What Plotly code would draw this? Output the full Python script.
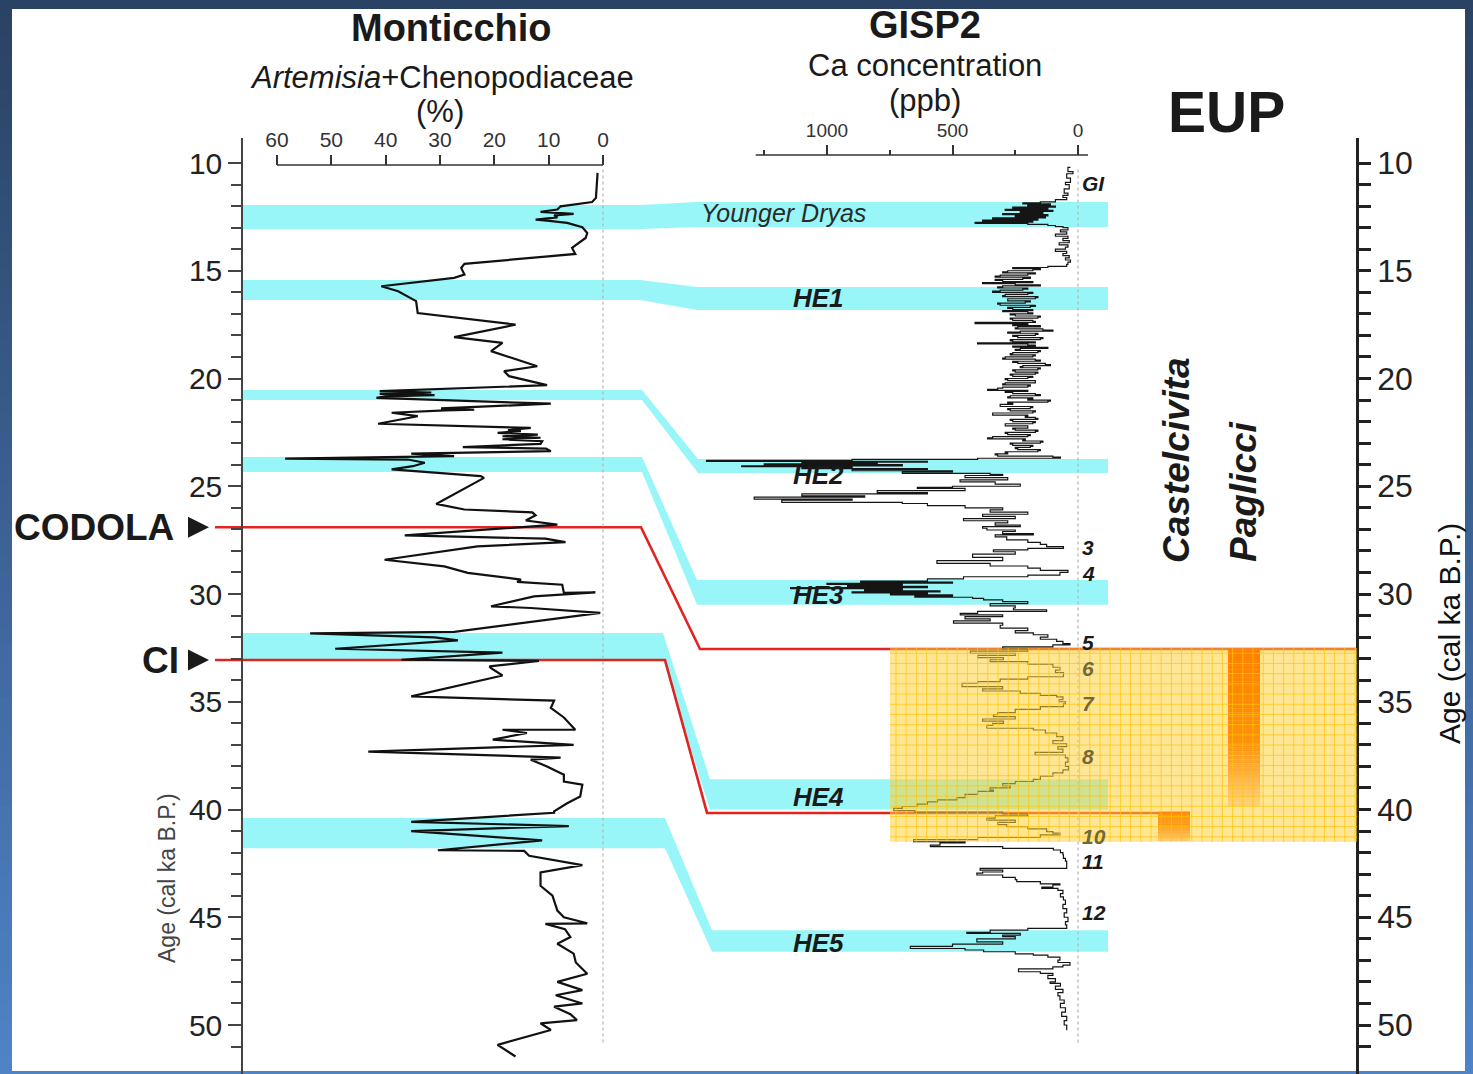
import numpy as np
import plotly.graph_objects as go

W, H = 1473, 1074
FONT = "Liberation Sans, Arial, Helvetica, sans-serif"

# ------------------------------------------------------------------ data
# Monticchio: Artemisia+Chenopodiaceae (%) vs age (cal ka BP)
monti_age = [10.46, 11.62, 11.81, 12.01, 12.16, 12.27, 12.36, 12.43, 12.52, 12.63,
             12.67, 12.78, 12.98, 13.25, 13.48, 13.76, 13.94, 14.22, 14.68, 14.87,
             15.18, 15.33, 15.72, 15.95, 16.26, 16.41, 16.96, 17.50, 18.08, 18.35,
             18.73, 19.43, 19.66, 19.89, 20.31, 20.59, 20.65, 20.71, 20.77, 20.83,
             20.90, 21.17, 21.39, 21.45, 21.48, 21.59, 21.75, 22.10, 22.29, 22.40,
             22.44, 22.52, 22.60, 22.68, 22.75, 22.82, 22.91, 23.03, 23.18, 23.25,
             23.37, 23.49, 23.60, 23.72, 23.76, 23.91, 24.07, 24.22, 24.53, 24.61,
             25.82, 26.08, 26.21, 26.35, 26.59, 26.78, 27.28, 27.43, 27.59, 27.79,
             28.41, 28.72, 29.02, 29.33, 29.44, 29.57, 29.95, 29.92, 30.11, 30.57,
             30.65, 30.88, 31.76, 31.83, 32.01, 32.15, 32.54, 32.72, 33.05, 33.10,
             33.36, 33.44, 33.78, 34.75, 34.95, 35.29, 35.73, 36.30, 36.30, 36.45,
             36.76, 37.00, 37.31, 37.59, 37.69, 38.00, 38.39, 38.70, 38.85, 39.40,
             39.71, 40.09, 40.15, 40.57, 40.77, 41.00, 41.43, 41.89, 41.92, 42.15,
             42.58, 42.92, 43.54, 44.00, 44.69, 45.00, 45.28, 45.31, 45.55, 45.92,
             46.23, 46.69, 47.10, 47.62, 48.00, 48.38, 48.62, 49.00, 49.15, 49.50,
             49.77, 49.92, 50.23, 50.92, 51.46]
monti_pct = [1.0, 1.3, 2.0, 7.8, 8.4, 11.5, 5.4, 9.0, 8.4, 12.4,
             10.3, 6.6, 3.8, 2.9, 3.2, 4.8, 5.7, 5.1, 25.5, 26.1,
             25.5, 27.4, 40.8, 37.7, 35.3, 34.4, 34.1, 16.1, 27.4, 18.5,
             20.6, 12.1, 18.2, 17.3, 10.3, 41.1, 31.6, 41.1, 31.0, 40.0,
             41.7, 9.6, 29.8, 23.7, 29.0, 38.9, 34.1, 41.4, 13.3, 17.5,
             15.1, 19.4, 12.0, 18.5, 11.5, 18.5, 11.2, 11.5, 25.8, 10.5,
             9.6, 35.3, 27.4, 58.5, 35.9, 32.8, 35.0, 38.9, 22.5, 21.9,
             30.7, 25.5, 13.0, 12.4, 14.2, 8.4, 36.5, 10.6, 6.9, 23.1,
             40.2, 29.2, 24.9, 15.1, 15.8, 7.5, 7.2, 1.4, 12.7, 20.6,
             13.3, 0.5, 27.4, 53.9, 31.0, 26.7, 49.3, 18.5, 37.1, 11.8,
             20.9, 20.6, 18.5, 35.3, 9.0, 9.6, 7.2, 5.1, 18.5, 14.0,
             20.3, 5.4, 43.2, 7.8, 13.3, 10.3, 7.2, 7.2, 3.8, 4.2,
             6.6, 9.0, 9.0, 35.3, 6.3, 35.3, 11.2, 30.4, 14.5, 13.6,
             3.8, 11.5, 11.5, 9.3, 8.4, 7.2, 2.9, 10.6, 7.0, 6.0,
             8.4, 5.4, 5.0, 2.9, 8.4, 3.8, 8.7, 3.8, 9.0, 6.0,
             4.8, 11.5, 9.6, 19.4, 16.1]

# GISP2 Ca concentration (ppb) vs age (cal ka BP)
gisp_age = [10.2, 10.4, 10.5, 10.7, 10.9, 11.0, 11.2, 11.4, 11.5, 11.6, 11.7, 11.8,
            11.85, 11.9, 11.95, 12.0, 12.05, 12.1, 12.15, 12.2, 12.25, 12.3, 12.35, 12.4,
            12.45, 12.5, 12.55, 12.6, 12.65, 12.7, 12.75, 12.8, 12.85, 12.9, 12.95,
            13.0, 13.1, 13.2, 13.3, 13.4, 13.5, 13.6, 13.7, 13.8, 13.9, 14.0, 14.1,
            14.2, 14.3, 14.4, 14.5, 14.6, 14.7, 14.8, 14.85,
            14.90, 14.95, 15.00, 15.05, 15.10, 15.15, 15.20, 15.25, 15.30, 15.35,
            15.40, 15.45, 15.50, 15.55, 15.60, 15.65, 15.70, 15.75, 15.80, 15.85,
            15.90, 15.95, 16.00, 16.05, 16.10, 16.15, 16.20, 16.25, 16.30, 16.35,
            16.40, 16.45, 16.50, 16.55, 16.60, 16.65, 16.70, 16.75, 16.80, 16.85,
            16.90, 16.95, 17.00, 17.05, 17.10, 17.15, 17.20, 17.25, 17.30, 17.35,
            17.40, 17.45, 17.50, 17.55, 17.60, 17.65, 17.70, 17.75, 17.80, 17.85,
            17.90, 17.95, 18.00, 18.05, 18.10, 18.15, 18.20, 18.25, 18.30, 18.35,
            18.40, 18.45, 18.50, 18.55, 18.60, 18.65, 18.70, 18.75, 18.80, 18.85,
            18.90, 18.95, 19.00, 19.05, 19.10, 19.15, 19.20, 19.25, 19.30, 19.35,
            19.40, 19.45, 19.50, 19.55, 19.60, 19.65, 19.70, 19.75, 19.80, 19.85,
            19.90, 19.95, 20.00, 20.05, 20.10, 20.15, 20.20, 20.25, 20.30, 20.35,
            20.40, 20.45, 20.50, 20.55, 20.60, 20.65, 20.70, 20.75, 20.80, 20.85,
            20.90, 20.95, 21.00, 21.05, 21.10, 21.15, 21.20, 21.25, 21.30, 21.35,
            21.40, 21.45, 21.50, 21.55, 21.60, 21.65, 21.70, 21.75, 21.80, 21.85,
            21.90, 21.95, 22.00, 22.05, 22.10, 22.15, 22.20, 22.25, 22.30, 22.35,
            22.40, 22.45, 22.50, 22.55, 22.60, 22.65, 22.70, 22.75, 22.80, 22.85,
            22.90, 22.95, 23.00, 23.05, 23.10, 23.15, 23.20, 23.25, 23.30, 23.35,
            23.40, 23.45, 23.50, 23.55, 23.60, 23.65, 23.70,
            23.75, 23.8, 23.85, 23.88, 23.92, 23.96, 24.0, 24.05, 24.09, 24.13, 24.18,
            24.22, 24.28, 24.33, 24.4, 24.45, 24.5, 24.6, 24.7, 24.8, 24.9, 25.0,
            25.05, 25.1, 25.2, 25.3, 25.35, 25.45, 25.5, 25.6, 25.65, 25.75, 25.8,
            25.9, 26.0, 26.1, 26.2, 26.3, 26.4, 26.5, 26.6, 26.7, 26.8, 26.87, 26.95,
            27.03, 27.1, 27.2, 27.26, 27.35, 27.49, 27.6, 27.7, 27.8, 27.88, 27.95,
            28.04, 28.15, 28.3, 28.45, 28.58, 28.7, 28.8, 28.9, 29.0, 29.12, 29.2, 29.3,
            29.4, 29.45, 29.5, 29.55, 29.6, 29.65, 29.7, 29.75, 29.8, 29.85, 29.9,
            29.95, 30.0, 30.04, 30.1, 30.15, 30.2, 30.27, 30.35, 30.45, 30.55, 30.65,
            30.73, 30.81, 30.9, 30.97, 31.05, 31.15, 31.25, 31.35, 31.45, 31.58, 31.7,
            31.8, 31.89, 32.0, 32.1, 32.2, 32.3, 32.36,
            32.45, 32.55, 32.65, 32.75, 32.85, 32.95, 33.05, 33.14, 33.25, 33.4, 33.53,
            33.65, 33.84, 33.95, 34.07, 34.15, 34.3, 34.4, 34.5, 34.61, 34.7, 34.77,
            34.9, 35.0, 35.1, 35.23, 35.35, 35.5, 35.6, 35.69, 35.8, 35.9, 36.0, 36.1,
            36.23, 36.31, 36.45, 36.62, 36.8, 36.95, 37.08, 37.2, 37.35, 37.47, 37.6,
            37.8, 38.0, 38.16, 38.3, 38.45, 38.6, 38.7, 38.8, 38.9, 39.0, 39.1, 39.16,
            39.3, 39.45, 39.55, 39.65, 39.75, 39.86, 39.95, 40.05, 40.12,
            40.2, 40.3, 40.4, 40.49, 40.6, 40.7, 40.8, 40.9, 41.03, 41.1, 41.18, 41.3,
            41.4, 41.49, 41.55, 41.65, 41.72, 41.8, 41.88, 42.0, 42.1, 42.27, 42.4,
            42.55, 42.73, 42.81, 42.9, 42.95, 43.04, 43.15, 43.25, 43.35, 43.45, 43.5,
            43.6, 43.66, 43.75, 43.9, 44.05, 44.2, 44.4, 44.6, 44.8, 45.0, 45.2, 45.35,
            45.52, 45.6, 45.7, 45.75, 45.83, 45.9, 46.0, 46.14, 46.25, 46.35, 46.45,
            46.52, 46.6, 46.7, 46.76, 46.85, 46.99, 47.1, 47.22, 47.3, 47.4, 47.53,
            47.6, 47.7, 47.85, 48.0, 48.07, 48.2, 48.35, 48.5, 48.65, 48.84, 49.0,
            49.2, 49.4, 49.6, 49.8, 50.0, 50.24]
gisp_ca = [30, 40, 20, 45, 30, 50, 35, 55, 40, 60, 45, 90,
           150, 220, 110, 200, 90, 260, 120, 290, 100, 230, 140, 300,
           120, 250, 130, 340, 160, 380, 180, 410, 200, 120, 90,
           60, 40, 70, 45, 90, 40, 60, 35, 75, 40, 50, 90,
           45, 60, 35, 50, 30, 40, 45, 120,
           260, 150, 180, 280, 300, 170, 200, 310, 330, 190,
           220, 330, 300, 180, 380, 250, 150, 300, 320, 200,
           220, 310, 340, 180, 200, 290, 300, 160, 170, 280,
           280, 190, 210, 320, 310, 170, 190, 280, 260, 180,
           300, 200, 180, 270, 250, 150, 160, 270, 260, 180,
           170, 410, 200, 260, 150, 240, 250, 140, 100, 230,
           280, 160, 170, 260, 240, 140, 150, 270, 260, 170,
           400, 200, 170, 260, 120, 230, 250, 150, 160, 260,
           270, 170, 180, 290, 300, 170, 150, 260, 240, 130,
           110, 220, 230, 150, 160, 260, 250, 160, 170, 270,
           260, 180, 200, 290, 280, 170, 170, 290, 300, 190,
           200, 300, 320, 360, 200, 290, 260, 170, 150, 270,
           280, 180, 200, 110, 120, 280, 260, 310, 310, 180,
           190, 280, 270, 170, 180, 340, 340, 200, 210, 170,
           160, 270, 260, 170, 180, 290, 290, 200, 200, 260,
           250, 160, 170, 290, 280, 190, 200, 340, 360, 210,
           220, 140, 150, 270, 260, 180, 190, 250, 240, 150,
           160, 290, 280, 330, 320, 100, 70,
           400, 900, 1480, 600, 1100, 800, 1250, 700, 1340, 900, 1100,
           600, 900, 500, 700, 350, 300, 450, 280, 470, 330, 230,
           500, 640, 450, 800, 600, 1100, 850, 1290, 900, 1180, 700,
           600, 450, 300, 350, 200, 380, 250, 456, 280, 330, 230, 380,
           363, 250, 300, 178, 330, 284, 200, 150, 125, 58, 200,
           337, 250, 420, 300, 562, 350, 200, 150, 40, 72, 200, 456,
           600, 866, 500, 1000, 700, 918, 600, 1145, 700, 850, 550,
           900, 600, 747, 500, 650, 420, 376, 300, 200, 350, 250,
           257, 125, 400, 469, 300, 450, 350, 496, 300, 310, 200,
           250, 178, 120, 150, 85, 60, 32,
           100, 300, 200, 429, 250, 400, 297, 350, 200, 100, 72,
           90, 58, 200, 310, 400, 462, 300, 380, 230, 150, 85,
           60, 75, 50, 58, 150, 250, 320, 337, 250, 380, 297, 340,
           363, 178, 130, 85, 60, 100, 45, 80, 60, 171, 50,
           40, 50, 38, 60, 100, 150, 178, 250, 300, 270, 350, 337,
           400, 450, 482, 560, 600, 641, 700, 734, 650,
           300, 200, 330, 363, 250, 320, 284, 200, 125, 100, 72, 150,
           400, 655, 450, 550, 588, 300, 98, 70, 60, 58, 50,
           45, 45, 390, 300, 380, 403, 300, 250, 244, 150, 72,
           100, 144, 80, 60, 70, 58, 50, 60, 45, 55, 40, 50,
           45, 200, 350, 443, 230, 300, 250, 403, 300, 500, 668,
           450, 376, 250, 178, 120, 72, 80, 32, 60, 100, 237,
           150, 100, 120, 90, 111, 70, 90, 60, 80, 72, 55,
           70, 50, 65, 45, 55, 45]

# Cold events (cyan bands): ages at Monticchio side and at GISP2 side
band_names = ["Younger Dryas", "HE1", "HE2", "HE3", "HE4", "HE5"]
band_left_top = [11.95, 15.43, 20.53, 23.64, 31.81, 40.40]
band_left_bot = [13.06, 16.36, 21.00, 24.34, 33.06, 41.80]
band_right_top = [11.81, 15.75, 23.73, 29.35, 38.60, 45.60]
band_right_bot = [12.97, 16.82, 24.38, 30.50, 40.00, 46.60]

# Tephra markers (red lines)
tephra_names = ["CODOLA", "CI"]
tephra_age_monti = [26.90, 33.06]
tephra_age_gisp = [32.55, 40.16]

# Greenland interstadial numbers
stadial_labels = ["GI", "3", "4", "5", "6", "7", "8", "10", "11", "12"]
stadial_ages = [10.93, 27.82, 29.03, 32.23, 33.48, 35.06, 37.56, 41.23, 42.39, 44.80]

# Early Upper Palaeolithic span and sites
eup_age_top, eup_age_bot = 32.5, 41.5
site_names = ["Castelcivita", "Paglicci"]
site_age_top = [40.10, 32.60]
site_age_bot = [41.45, 39.84]

# tick values
monti_ticks = [60, 50, 40, 30, 20, 10, 0]
gisp_ticks = [1000, 500, 0]
gisp_minor = [1250, 750, 250]
age_ticks = [10, 15, 20, 25, 30, 35, 40, 45, 50]
age_minor = [a for a in range(11, 52) if a % 5 != 0]

# ------------------------------------------------------------------ layout constants (pixels)
AGE_REF, AGE_REF_PX, PX_PER_KA = 10.0, 163.0, 21.55
PLOT_TOP_PX = 138
MONT_ZERO_PX, MONT_PX_PER = 603.0, 5.4333
GISP_ZERO_PX, GISP_PX_PER = 1078.0, 0.251
LEFT_AXIS_PX, RIGHT_AXIS_PX = 242, 1357
BAND_END_PX = 1108
band_bend_px = [(640, 697), (640, 697), (642, 698), (642, 697), (663, 710), (665, 712)]
tephra_bend_px = [(641, 700), (665, 707)]
tephra_end_px = [1357, 1190]
EUP_X0, EUP_X1 = 890, 1357
site_x = [(1158, 1190), (1228, 1260)]
ARROW_TIP_PX = 209


def px_to_age(p):
    return AGE_REF + (p - AGE_REF_PX) / PX_PER_KA


def pxx(x):
    return x / W


def pxy(y):
    return 1 - y / H


y_top = px_to_age(PLOT_TOP_PX)
y_bot = px_to_age(H)
mont_range = [MONT_ZERO_PX / MONT_PX_PER, (MONT_ZERO_PX - W) / MONT_PX_PER]
gisp_range = [GISP_ZERO_PX / GISP_PX_PER, (GISP_ZERO_PX - W) / GISP_PX_PER]


def lerp_color(stops, t):
    for (t0, c0), (t1, c1) in zip(stops[:-1], stops[1:]):
        if t0 <= t <= t1:
            f = (t - t0) / (t1 - t0) if t1 > t0 else 0
            c = [round(a + (b - a) * f) for a, b in zip(c0, c1)]
            return f"rgb({c[0]},{c[1]},{c[2]})"
    c = stops[-1][1]
    return f"rgb({c[0]},{c[1]},{c[2]})"


shapes = []
# blue gradient frame
n_strips = 60
bg_stops = [(0, (42, 66, 100)), (1, (78, 131, 198))]
for i in range(n_strips):
    t = i / (n_strips - 1)
    shapes.append(dict(type="rect", xref="paper", yref="paper", x0=0, x1=1,
                       y0=1 - (i + 1) / n_strips - 0.002, y1=1 - i / n_strips,
                       fillcolor=lerp_color(bg_stops, t), line_width=0, layer="below"))
# white panel
shapes.append(dict(type="rect", xref="paper", yref="paper", x0=pxx(12), x1=pxx(1465),
                   y0=pxy(1071), y1=pxy(9), fillcolor="white", line_width=0, layer="below"))

# cyan bands
CYAN = "#98f6f8"
for i in range(len(band_names)):
    xb1, xb2 = band_bend_px[i]
    lt, lb, rt, rb = band_left_top[i], band_left_bot[i], band_right_top[i], band_right_bot[i]
    path = (f"M {LEFT_AXIS_PX},{lt} L {xb1},{lt} L {xb2},{rt} L {BAND_END_PX},{rt} "
            f"L {BAND_END_PX},{rb} L {xb2},{rb} L {xb1},{lb} L {LEFT_AXIS_PX},{lb} Z")
    shapes.append(dict(type="path", xref="x", yref="y", path=path, fillcolor=CYAN,
                       line_width=0, layer="below"))

# red tephra lines
for i in range(len(tephra_names)):
    xb1, xb2 = tephra_bend_px[i]
    a1, a2 = tephra_age_monti[i], tephra_age_gisp[i]
    path = f"M 215,{a1} L {xb1},{a1} L {xb2},{a2} L {tephra_end_px[i]},{a2}"
    shapes.append(dict(type="path", xref="x", yref="y", path=path,
                       line=dict(color="#e2231f", width=2.6), layer="below"))

# dotted zero lines
shapes.append(dict(type="line", xref="x2", yref="y", x0=0, x1=0, y0=10.3, y1=50.9,
                   line=dict(color="#b5b5b5", width=1.2, dash="dot"), layer="below"))
shapes.append(dict(type="line", xref="x3", yref="y", x0=0, x1=0, y0=10.3, y1=50.9,
                   line=dict(color="#b5b5b5", width=1.2, dash="dot"), layer="below"))

# top axis lines
shapes.append(dict(type="line", xref="x2", yref="paper", x0=60, x1=0, y0=pxy(165), y1=pxy(165),
                   line=dict(color="#333", width=1.5)))
shapes.append(dict(type="line", xref="x3", yref="paper", x0=1284, x1=-40, y0=pxy(155), y1=pxy(155),
                   line=dict(color="#333", width=1.5)))

# EUP yellow box
shapes.append(dict(type="rect", xref="x", yref="y", x0=EUP_X0, x1=EUP_X1,
                   y0=eup_age_top, y1=eup_age_bot, fillcolor="rgba(255,210,60,0.55)",
                   line_width=0, layer="above"))

# site bars (gradient strips)
site_stops = [
    [(0, (255, 140, 0)), (0.5, (255, 150, 20)), (1, (255, 200, 110))],
    [(0, (255, 128, 0)), (0.6, (255, 145, 15)), (1, (255, 210, 120))],
]
n_bar = 40
for i in range(len(site_names)):
    x0, x1 = site_x[i]
    a0, a1 = site_age_top[i], site_age_bot[i]
    for k in range(n_bar):
        t0, t1 = k / n_bar, (k + 1) / n_bar
        shapes.append(dict(type="rect", xref="x", yref="y", x0=x0, x1=x1,
                           y0=a0 + (a1 - a0) * t0, y1=a0 + (a1 - a0) * t1 + 0.01,
                           fillcolor=lerp_color(site_stops[i], (t0 + t1) / 2),
                           line_width=0, layer="above"))

# grid over the EUP box
gx = np.arange(EUP_X0 + 6, EUP_X1, 10.2)
gy = np.arange(eup_age_top + 0.25, eup_age_bot, 10.2 / PX_PER_KA)
segs = [f"M {x:.1f},{eup_age_top} L {x:.1f},{eup_age_bot}" for x in gx]
segs += [f"M {EUP_X0},{a:.3f} L {EUP_X1},{a:.3f}" for a in gy]
shapes.append(dict(type="path", xref="x", yref="y", path=" ".join(segs),
                   line=dict(color="rgba(255,196,0,0.7)", width=1), layer="above"))

# ------------------------------------------------------------------ annotations
ann = []


def add_text(text, x, y, size, color="#1a1a1a", angle=0, xanchor="center", yanchor="middle"):
    ann.append(dict(text=text, x=pxx(x), y=pxy(y), xref="paper", yref="paper", showarrow=False,
                    font=dict(family=FONT, size=size, color=color), textangle=angle,
                    xanchor=xanchor, yanchor=yanchor))


add_text("<b>Monticchio</b>", 451, 28, 38)
add_text("<i>Artemisia</i>+Chenopodiaceae", 442, 77, 31)
add_text("(%)", 440, 111, 31)
add_text("<b>GISP2</b>", 925, 25, 38)
add_text("Ca concentration", 925, 65, 31)
add_text("(ppb)", 925, 101, 31)
add_text("<b>EUP</b>", 1226, 112, 57)
add_text("<b><i>Castelcivita</i></b>", 1176, 460, 37, angle=-90)
add_text("<b><i>Paglicci</i></b>", 1243, 492, 37, angle=-90)
add_text("Age (cal ka B.P.)", 1449, 634, 30, color="#111", angle=-90)
add_text("Age (cal ka B.P.)", 167, 878, 23, color="#444", angle=-90)
add_text("<b>CODOLA</b>", 176, 528, 37, xanchor="right")
add_text("<b>CI</b>", 181, 660, 37, xanchor="right")

label_px = [(783, 213), (818, 298), (818, 475), (818, 595), (818, 797), (818, 943)]
for i, name in enumerate(band_names):
    if i == 0:
        add_text(f"<i>{name}</i>", label_px[i][0], label_px[i][1], 25, color="#2a2a2a")
    else:
        add_text(f"<b><i>{name}</i></b>", label_px[i][0], label_px[i][1], 26, color="#1a1a1a")

for lab, age in zip(stadial_labels, stadial_ages):
    y_px = AGE_REF_PX + (age - AGE_REF) * PX_PER_KA
    inside = eup_age_top < age < eup_age_bot
    add_text(f"<b><i>{lab}</i></b>", 1080, y_px, 21,
             color="#736838" if inside else "#1a1a1a", xanchor="left")

# ------------------------------------------------------------------ figure
fig = go.Figure()
fig.add_trace(go.Scatter(x=[None], y=[None], xaxis="x", yaxis="y", showlegend=False, hoverinfo="skip"))
fig.add_trace(go.Scatter(x=[None], y=[None], xaxis="x", yaxis="y2", showlegend=False, hoverinfo="skip"))
fig.add_trace(go.Scatter(x=[ARROW_TIP_PX] * len(tephra_names), y=tephra_age_monti, xaxis="x", yaxis="y",
                         mode="markers", marker=dict(symbol="arrow-right", size=21, color="#1a1a1a"),
                         showlegend=False, hoverinfo="skip"))
fig.add_trace(go.Scatter(x=monti_pct, y=monti_age, xaxis="x2", yaxis="y", mode="lines",
                         line=dict(color="#111111", width=2.2), showlegend=False, hoverinfo="skip"))
fig.add_trace(go.Scatter(x=gisp_ca, y=gisp_age, xaxis="x3", yaxis="y", mode="lines",
                         line=dict(color="#151515", width=1.2, shape="hv"),
                         showlegend=False, hoverinfo="skip"))

common_y = dict(range=[y_bot, y_top], showgrid=False, zeroline=False, fixedrange=True)

fig.update_layout(
    width=W, height=H, autosize=False, margin=dict(l=0, r=0, t=0, b=0),
    paper_bgcolor="#3a5f90", plot_bgcolor="rgba(0,0,0,0)",
    showlegend=False, hovermode=False,
    xaxis=dict(domain=[0, 1], range=[0, W], visible=False, fixedrange=True),
    xaxis2=dict(overlaying="x", range=mont_range, anchor="free", position=pxy(165), side="top",
                tickmode="array", tickvals=monti_ticks, ticks="outside", ticklen=10, tickwidth=1.5,
                tickcolor="#333", showline=False, showgrid=False, zeroline=False,
                tickfont=dict(family=FONT, size=21, color="#333"), fixedrange=True),
    xaxis3=dict(overlaying="x", range=gisp_range, anchor="free", position=pxy(155), side="top",
                tickmode="array", tickvals=gisp_ticks, ticks="outside", ticklen=10, tickwidth=1.5,
                tickcolor="#333", showline=False, showgrid=False, zeroline=False,
                minor=dict(tickmode="array", tickvals=gisp_minor, ticks="outside", ticklen=5,
                           tickwidth=1.5, tickcolor="#333"),
                tickfont=dict(family=FONT, size=19, color="#333"), fixedrange=True),
    yaxis=dict(domain=[0, pxy(PLOT_TOP_PX)], anchor="free", position=pxx(LEFT_AXIS_PX), side="left",
               tickmode="array", tickvals=age_ticks, ticks="outside", ticklen=13, tickwidth=1.5,
               tickcolor="#444", showline=True, linecolor="#444", linewidth=1.5,
               minor=dict(tickmode="array", tickvals=age_minor, ticks="outside", ticklen=10,
                          tickwidth=1.5, tickcolor="#444"),
               tickfont=dict(family=FONT, size=30, color="#222"), **common_y),
    yaxis2=dict(overlaying="y", anchor="free", position=pxx(RIGHT_AXIS_PX), side="right",
                tickmode="array", tickvals=age_ticks, ticks="outside", ticklen=12, tickwidth=2.5,
                tickcolor="#222", showline=True, linecolor="#222", linewidth=2.5,
                minor=dict(tickmode="array", tickvals=age_minor, ticks="outside", ticklen=12,
                           tickwidth=2.5, tickcolor="#222"),
                tickfont=dict(family=FONT, size=32, color="#222"), **common_y),
    shapes=shapes,
    annotations=ann,
)

fig.write_html("out.html", config={"displayModeBar": False},
               post_script="document.body.style.margin='0';document.body.style.overflow='hidden';")
